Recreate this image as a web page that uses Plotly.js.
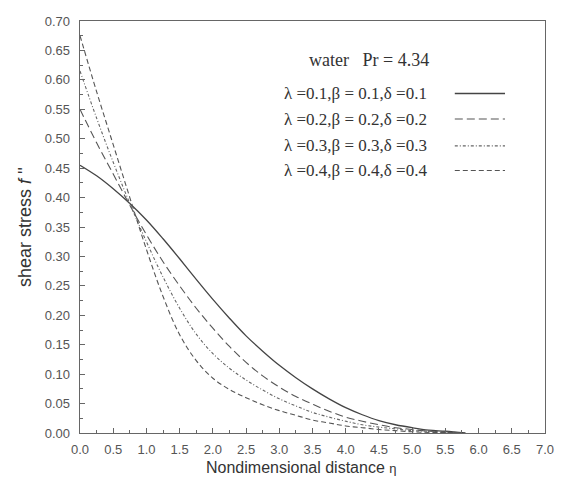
<!DOCTYPE html>
<html>
<head>
<meta charset="utf-8">
<script src="https://cdn.plot.ly/plotly-3.0.1.min.js"></script>
<style>html,body{margin:0;padding:0;background:#fff;}#chart{width:565px;height:477px;}</style>
</head>
<body>
<div id="chart"></div>
<script>
// Nondimensional distance eta
const eta = [0, 0.25, 0.5, 0.75, 1.0, 1.25, 1.5, 1.75, 2.0, 2.25, 2.5, 2.75, 3.0, 3.25, 3.5, 3.75, 4.0, 4.25, 4.5, 4.75, 5.0, 5.25, 5.5, 5.8];
// shear stress f'' for each parameter set
const f_01 = [0.455, 0.437, 0.415, 0.390, 0.362, 0.330, 0.296, 0.261, 0.227, 0.195, 0.165, 0.139, 0.115, 0.094, 0.075, 0.058, 0.043, 0.031, 0.021, 0.014, 0.009, 0.005, 0.003, 0.000];
const f_02 = [0.550, 0.493, 0.440, 0.387, 0.337, 0.291, 0.250, 0.212, 0.178, 0.147, 0.120, 0.097, 0.078, 0.062, 0.049, 0.037, 0.027, 0.020, 0.014, 0.009, 0.006, 0.003, 0.002, 0.000];
const f_03 = [0.615, 0.535, 0.460, 0.390, 0.325, 0.265, 0.212, 0.168, 0.135, 0.110, 0.090, 0.073, 0.058, 0.046, 0.035, 0.027, 0.020, 0.014, 0.010, 0.007, 0.004, 0.003, 0.001, 0.000];
const f_04 = [0.675, 0.580, 0.490, 0.400, 0.312, 0.232, 0.167, 0.123, 0.093, 0.074, 0.060, 0.048, 0.038, 0.030, 0.022, 0.017, 0.012, 0.009, 0.006, 0.004, 0.002, 0.001, 0.001, 0.000];
const seriesNames = ["λ =0.1,β = 0.1,δ =0.1", "λ =0.2,β = 0.2,δ =0.2", "λ =0.3,β = 0.3,δ =0.3", "λ =0.4,β = 0.4,δ =0.4"];
const seriesValues = [f_01, f_02, f_03, f_04];
const dashes = ["solid", "8px,4px", "3px,2px,1px,2px", "5px,3px"];
const colors = ["#444", "#555", "#666", "#555"];

const traces = seriesValues.map((v, i) => ({
  x: eta, y: v, type: 'scatter', mode: 'lines', name: seriesNames[i],
  line: {color: colors[i], width: i === 0 ? 1.3 : 1.1, dash: dashes[i], shape: 'spline', smoothing: 1},
  showlegend: false, hoverinfo: 'skip'
}));

const annotations = [{
  xref: 'paper', yref: 'paper', x: 0.488, y: 0.906, xanchor: 'left', yanchor: 'middle',
  text: 'water&nbsp;&nbsp;&nbsp;Pr = 4.34', showarrow: false,
  font: {family: 'Liberation Serif', size: 18, color: '#333'}
}, {
  xref: 'paper', yref: 'paper', x: 0.475, y: -0.058, xanchor: 'center', yanchor: 'top',
  text: 'Nondimensional distance <span style="font-size:13px">η</span>', showarrow: false,
  font: {family: 'Liberation Sans', size: 16, color: '#333'}
}];
const shapes = [];
const rowY = [0.824, 0.762, 0.697, 0.637];
seriesNames.forEach((n, i) => {
  annotations.push({
    xref: 'paper', yref: 'paper', x: 0.434, y: rowY[i], xanchor: 'left', yanchor: 'middle',
    text: n, showarrow: false, font: {family: 'Liberation Serif', size: 17, color: '#333'}
  });
  shapes.push({
    type: 'line', xref: 'paper', yref: 'paper', x0: 0.806, x1: 0.914, y0: rowY[i], y1: rowY[i],
    line: {color: colors[i], width: i === 0 ? 1.3 : 1.1, dash: dashes[i]}
  });
});

const axisCommon = {
  showline: true, mirror: true, linecolor: '#666', linewidth: 1.3,
  ticks: 'inside', ticklen: 5, tickcolor: '#666', tickwidth: 1,
  showgrid: false, zeroline: false,
  tickfont: {family: 'Liberation Sans', size: 13, color: '#555'}
};

const layout = {
  width: 565, height: 477,
  margin: {l: 80, r: 20, t: 21, b: 44},
  paper_bgcolor: '#fff', plot_bgcolor: '#fff',
  xaxis: Object.assign({}, axisCommon, {
    range: [0, 7], dtick: 0.5, tick0: 0, tickformat: '.1f', ticklabelstandoff: 4,
    minor: {ticks: 'inside', ticklen: 3, dtick: 0.25, tickcolor: '#666'}
  }),
  yaxis: Object.assign({}, axisCommon, {
    range: [0, 0.70], dtick: 0.05, tick0: 0, tickformat: '.2f', ticklabelstandoff: 6,
    minor: {ticks: 'inside', ticklen: 3, dtick: 0.025, tickcolor: '#666'},
    title: {text: "shear stress <i>f</i> ''", standoff: 8,
      font: {family: 'Liberation Sans', size: 18, color: '#333'}}
  }),
  annotations: annotations,
  shapes: shapes
};

Plotly.newPlot('chart', traces, layout, {displayModeBar: false, staticPlot: true});
</script>
</body>
</html>
